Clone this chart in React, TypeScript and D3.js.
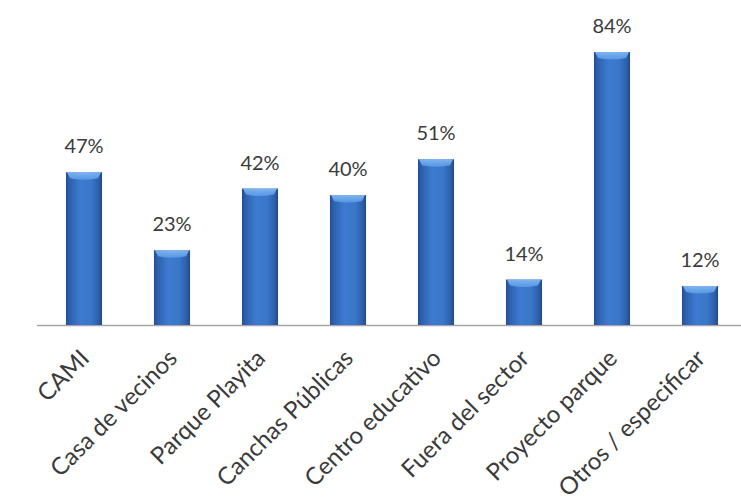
import React from "react";
import * as d3 from "d3";

const categories = [
  "CAMI",
  "Casa de vecinos",
  "Parque Playita",
  "Canchas Públicas",
  "Centro educativo",
  "Fuera del sector",
  "Proyecto parque",
  "Otros / especificar",
];
const values = [47, 23, 42, 40, 51, 14, 84, 12];

const W = 741;
const H = 501;
const FONT = "Lato, 'Open Sans', sans-serif";

export default function App() {
  const x = d3.scaleBand<string>().domain(categories).range([40, 744]).paddingInner(0.59).paddingOuter(0.295);
  const y = d3.scaleLinear().domain([0, 100]).range([325, 0]);
  const bw = x.bandwidth();
  return (
    <svg width={W} height={H} style={{ position: "absolute", left: 0, top: 0, background: "#fff" }}>
      <defs>
        <linearGradient id="barg" x1="0" x2="1" y1="0" y2="0">
          <stop offset="0%" stopColor="#234f93" />
          <stop offset="12%" stopColor="#2f63b0" />
          <stop offset="40%" stopColor="#3d7bd0" />
          <stop offset="70%" stopColor="#3a76c9" />
          <stop offset="90%" stopColor="#2d60ab" />
          <stop offset="100%" stopColor="#21498a" />
        </linearGradient>
        <linearGradient id="topg" x1="0" x2="0" y1="0" y2="1">
          <stop offset="0%" stopColor="#8cc0f5" />
          <stop offset="100%" stopColor="#5a9be8" />
        </linearGradient>
      </defs>
      <line x1={37} x2={741} y1={y(0) + 0.5} y2={y(0) + 0.5} stroke="#a6a6a6" strokeWidth={1.5} />
      {categories.map((c, i) => {
        const bx = x(c) as number;
        const by = y(values[i]);
        const bh = y(0) - by;
        const cx = bx + bw / 2;
        return (
          <g key={c}>
            <rect x={bx} y={by} width={bw} height={bh} fill="url(#barg)" />
            <path
              d={`M${bx + 1},${by} L${bx + bw - 1},${by} L${bx + bw - 4},${by + 6} Q${cx},${by + 9} ${bx + 4},${by + 6} Z`}
              fill="url(#topg)"
              opacity={0.85}
            />
            <text
              x={cx}
              y={by - 19}
              textAnchor="middle"
              fontFamily={FONT}
              fontSize={20}
              fill="#3a3a3a"
            >
              {values[i]}%
            </text>
            <text
              transform={`translate(${cx},${y(0) + 28}) rotate(-45)`}
              textAnchor="end"
              dominantBaseline="central"
              fontFamily={FONT}
              fontSize={24}
              fill="#3a3a3a"
            >
              {c}
            </text>
          </g>
        );
      })}
    </svg>
  );
}
